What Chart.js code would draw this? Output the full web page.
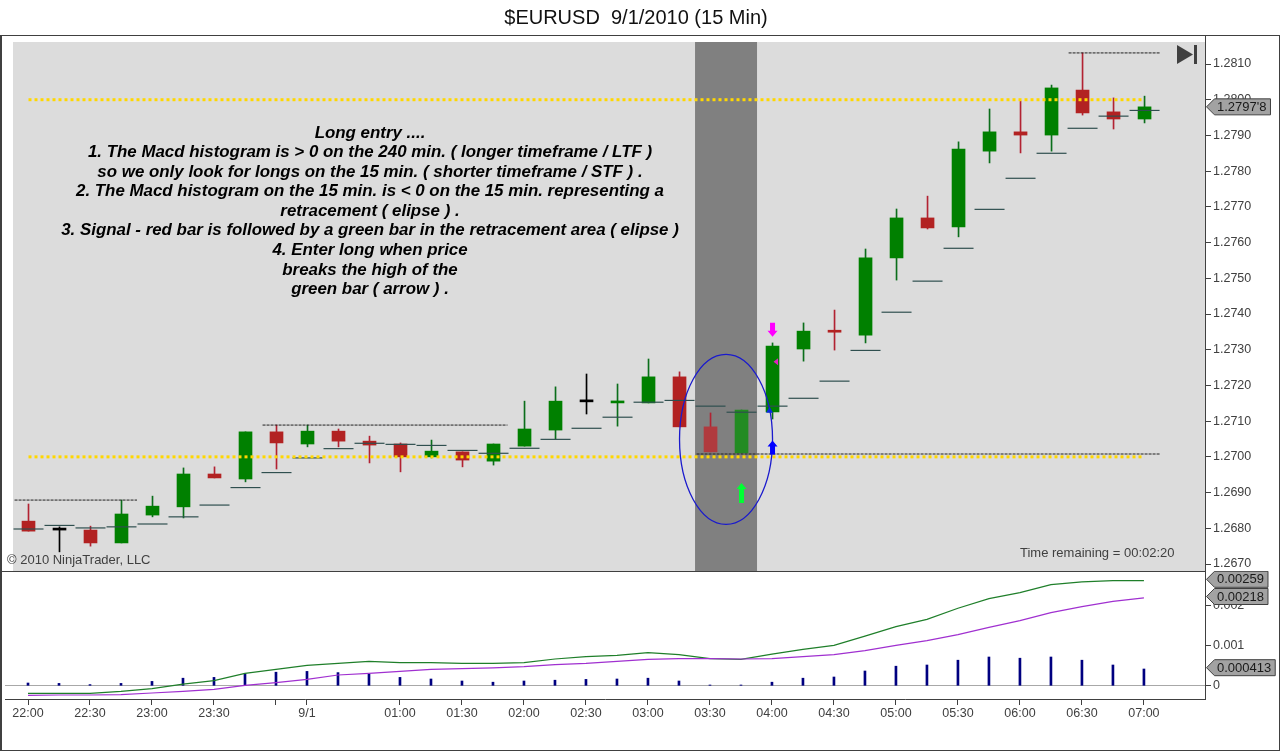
<!DOCTYPE html>
<html>
<head>
<meta charset="utf-8">
<title>$EURUSD 9/1/2010 (15 Min)</title>
<script src="https://cdn.jsdelivr.net/npm/chart.js@4/dist/chart.umd.min.js"></script>
<style>
    html, body { margin: 0; padding: 0; background: #fff; width: 1280px; height: 751px; overflow: hidden; }
    body { position: relative; font-family: "Liberation Sans", Arial, sans-serif; }
    canvas { position: absolute; left: 0; }
    #priceChart { top: 0; }
    #macdChart { top: 571px; }
    .frame { position: absolute; background: #404040; }
    .label { position: absolute; white-space: pre; color: #404040; font-size: 13px; line-height: 14px; }
    #chartTitle { position: absolute; left: 0; width: 1272px; top: 4px; text-align: center; white-space: pre; font-size: 20px; line-height: 26px; color: #111; }
    #entryNotes { position: absolute; left: 20px; width: 700px; top: 122.5px; text-align: center; white-space: pre; font-size: 16.9px; line-height: 19.6px; font-weight: bold; font-style: italic; color: #000; }
    #endIcon { position: absolute; left: 1177px; top: 45px; }
</style>
</head>
<body>
<canvas id="priceChart" width="1280" height="572"></canvas>
<canvas id="macdChart" width="1280" height="180"></canvas>

<div class="frame" style="left:0;top:35px;width:1280px;height:1px"></div>
<div class="frame" style="left:0;top:35px;width:2px;height:716px"></div>
<div class="frame" style="left:1279px;top:35px;width:1px;height:716px"></div>
<div class="frame" style="left:0;top:750px;width:1280px;height:1px"></div>
<div class="frame" style="left:1205px;top:35px;width:1px;height:664px"></div>
<div class="frame" style="left:0;top:571px;width:1205px;height:1px"></div>

<div id="chartTitle">$EURUSD  9/1/2010 (15 Min)</div>
<div id="entryNotes">Long entry ....
1. The Macd histogram is &gt; 0 on the 240 min. ( longer timeframe / LTF )
so we only look for longs on the 15 min. ( shorter timeframe / STF ) .
2. The Macd histogram on the 15 min. is &lt; 0 on the 15 min. representing a
retracement ( elipse ) .
3. Signal - red bar is followed by a green bar in the retracement area ( elipse )
4. Enter long when price
breaks the high of the
green bar ( arrow ) .</div>
<div class="label" style="left:7px;top:553px">© 2010 NinjaTrader, LLC</div>
<div class="label" style="left:1020px;top:546px">Time remaining = 00:02:20</div>
<svg id="endIcon" width="21" height="20"><path d="M0 0 L16 9.5 L0 19 Z" fill="#404040"/><rect x="17" y="0" width="3" height="19" fill="#404040"/></svg>

<script>
    // candles, one per 15 min bar starting at 22:00
    const opens = [1.2682, 1.26795, 1.26795, 1.26759, 1.26837, 1.2686, 1.26952, 1.26938, 1.2707, 1.27036, 1.27072, 1.27044, 1.27036, 1.27, 1.27014, 1.26988, 1.2703, 1.27075, 1.27154, 1.27151, 1.27151, 1.27224, 1.27084, 1.27011, 1.27126, 1.27302, 1.27352, 1.27341, 1.27557, 1.27669, 1.27644, 1.27856, 1.2791, 1.27901, 1.28027, 1.27966, 1.27946];
    const highs = [1.26868, 1.26804, 1.26806, 1.26879, 1.2689, 1.26969, 1.26972, 1.2707, 1.27089, 1.27089, 1.27078, 1.27058, 1.27039, 1.27047, 1.27014, 1.27036, 1.27156, 1.27196, 1.27232, 1.27204, 1.27274, 1.27238, 1.27123, 1.27131, 1.27319, 1.27375, 1.27411, 1.27582, 1.27694, 1.2773, 1.27882, 1.27974, 1.27996, 1.28041, 1.28131, 1.28005, 1.2801];
    const lows = [1.26792, 1.26734, 1.2675, 1.26759, 1.26832, 1.26829, 1.26941, 1.2693, 1.26966, 1.27028, 1.27028, 1.26983, 1.26958, 1.26997, 1.26972, 1.26977, 1.2703, 1.2705, 1.2712, 1.27086, 1.27151, 1.27084, 1.27014, 1.27011, 1.27106, 1.27268, 1.27299, 1.27319, 1.27495, 1.27638, 1.27616, 1.27823, 1.27851, 1.27856, 1.27957, 1.27918, 1.27935];
    const closes = [1.26792, 1.26795, 1.26759, 1.2684, 1.26862, 1.26952, 1.26941, 1.2707, 1.27039, 1.27072, 1.27044, 1.27033, 1.27, 1.27016, 1.26991, 1.27036, 1.27078, 1.27156, 1.27154, 1.27156, 1.27224, 1.27084, 1.27014, 1.27131, 1.2731, 1.27352, 1.27349, 1.27557, 1.27669, 1.27641, 1.27862, 1.2791, 1.27901, 1.28033, 1.27963, 1.27946, 1.2798];

    // the short flat marks that trail each bar
    const stopLevels = [1.26798, 1.26808, 1.26801, 1.26804, 1.26812, 1.26832, 1.26865, 1.26914, 1.26956, 1.26997, 1.27023, 1.27038, 1.27035, 1.27032, 1.27018, 1.2701, 1.27024, 1.27049, 1.2708, 1.27111, 1.27153, 1.27158, 1.27142, 1.27125, 1.27142, 1.27164, 1.27212, 1.27298, 1.27405, 1.27492, 1.27584, 1.27693, 1.2778, 1.2785, 1.2792, 1.27954, 1.2797];

    // macd panel
    const macdLine = [-0.00019, -0.00019, -0.00019, -0.00014, -0.00007, 0.00004, 0.00013, 0.00031, 0.00041, 0.00051, 0.00056, 0.00061, 0.00058, 0.00058, 0.00056, 0.00056, 0.00058, 0.00067, 0.00073, 0.00076, 0.00083, 0.00078, 0.00068, 0.00066, 0.00079, 0.00091, 0.00101, 0.00124, 0.00148, 0.00166, 0.00194, 0.00218, 0.00233, 0.00253, 0.0026, 0.00263, 0.00263];
    const signalLine = [-0.00024, -0.00023, -0.00023, -0.00022, -0.00018, -0.00014, -0.00009, 0.00001, 0.00008, 0.00016, 0.00027, 0.00031, 0.00036, 0.00041, 0.00043, 0.00045, 0.00048, 0.00053, 0.00056, 0.00061, 0.00066, 0.00068, 0.00068, 0.00067, 0.00068, 0.00073, 0.00078, 0.00088, 0.00101, 0.00113, 0.00128, 0.00146, 0.00163, 0.00183, 0.00198, 0.00211, 0.0022];
    const histogram = [0.00007, 0.00006, 0.00003, 0.00006, 0.00011, 0.00019, 0.00021, 0.0003, 0.00034, 0.00036, 0.00033, 0.00029, 0.00021, 0.00017, 0.00012, 0.00009, 0.00012, 0.00014, 0.00016, 0.00017, 0.00019, 0.00012, 0.00002, 0.00002, 0.00009, 0.00019, 0.00022, 0.00037, 0.00049, 0.00052, 0.00064, 0.00072, 0.00069, 0.00072, 0.00064, 0.00052, 0.00042];

    // axes
    const priceTicks = [1.267, 1.268, 1.269, 1.27, 1.271, 1.272, 1.273, 1.274, 1.275, 1.276, 1.277, 1.278, 1.279, 1.28, 1.281];
    const macdTicks = [0, 0.001, 0.002];
    const macdTickLabels = ["0", "0.001", "0.002"];
    const timeTicks = [0, 2, 4, 6, 8, 9, 12, 14, 16, 18, 20, 22, 24, 26, 28, 30, 32, 34, 36];
    const timeLabels = ["22:00", "22:30", "23:00", "23:30", "", "9/1", "01:00", "01:30", "02:00", "02:30", "03:00", "03:30", "04:00", "04:30", "05:00", "05:30", "06:00", "06:30", "07:00"];

    // dashed level lines and yellow dotted lines
    const levelPrices = [1.26879, 1.27089, 1.28131, 1.27008];
    const levelStarts = [-0.45, 7.55, 33.55, 21.55];
    const levelEnds = [3.5, 15.45, 36.5, 36.5];
    const dottedPrices = [1.28, 1.27];

    // annotations
    const retracementBars = [22, 23];
    const bandStart = 21.5;
    const bandEnd = 23.5;
    const ellipseLeft = 21;
    const ellipseRight = 24;
    const ellipseHigh = 1.27287;
    const ellipseLow = 1.26811;
    const arrowBars = [24, 24, 23];
    const arrowTips = [1.27336, 1.27046, 1.26927];
    const arrowSizes = [-14, 14, 20];
    const arrowColors = ["#ff00ff", "#0000ff", "#00ff33"];

    // right hand value flags
    const priceFlagText = "1.2797'8";
    const macdFlagTexts = ["0.00259", "0.00218", "0.000413"];

    const FONT = "'Liberation Sans', Arial, sans-serif";
    const AXIS_COLOR = "#404040";
    const barIndexes = closes.map((_, i) => i);

    const candleColor = (i) => {
        const highlighted = retracementBars.includes(i);
        if (opens[i] === closes[i]) return "#000000";
        if (closes[i] > opens[i]) return highlighted ? "#228b22" : "#008000";
        return highlighted ? "#b03a3e" : "#b22222";
    };
    const wickColor = (i) => {
        if (opens[i] === closes[i]) return "#000000";
        if (closes[i] > opens[i]) return "#0b6e1b";
        return "#b22232";
    };

    // labels near the edges must not shrink the plot area
    const fixAxisFit = (size) => (scale) => {
        if (scale.isHorizontal()) {
            scale.height = size;
        } else {
            scale.width = size;
        }
        scale.paddingTop = 0;
        scale.paddingBottom = 0;
        scale.paddingLeft = 0;
        scale.paddingRight = 0;
    };

    const drawFlag = (ctx, y, text) => {
        ctx.save();
        ctx.font = "13px " + FONT;
        const right = 1217 + ctx.measureText(text).width + 4;
        ctx.beginPath();
        ctx.moveTo(1206.5, y);
        ctx.lineTo(1214.5, y - 8);
        ctx.lineTo(right, y - 8);
        ctx.lineTo(right, y + 8);
        ctx.lineTo(1214.5, y + 8);
        ctx.closePath();
        ctx.fillStyle = "#a2a2a2";
        ctx.fill();
        ctx.strokeStyle = AXIS_COLOR;
        ctx.lineWidth = 1;
        ctx.stroke();
        ctx.fillStyle = "#1a1a1a";
        ctx.textAlign = "left";
        ctx.textBaseline = "middle";
        ctx.fillText(text, 1217, y + 0.5);
        ctx.restore();
    };

    const drawArrow = (ctx, x, tipY, size, color) => {
        const dir = size > 0 ? 1 : -1;
        const headEnd = tipY + dir * 6;
        const tail = tipY + size;
        ctx.beginPath();
        ctx.moveTo(x, tipY);
        ctx.lineTo(x + 5, headEnd);
        ctx.lineTo(x + 2.5, headEnd);
        ctx.lineTo(x + 2.5, tail);
        ctx.lineTo(x - 2.5, tail);
        ctx.lineTo(x - 2.5, headEnd);
        ctx.lineTo(x - 5, headEnd);
        ctx.closePath();
        ctx.fillStyle = color;
        ctx.fill();
    };

    const bandPlugin = {
        id: "band",
        beforeDatasetsDraw(chart) {
            const { ctx, chartArea, scales } = chart;
            ctx.save();
            ctx.fillStyle = "#dcdcdc";
            ctx.fillRect(chartArea.left, chartArea.top, chartArea.right - chartArea.left, chartArea.bottom - chartArea.top);
            const x0 = scales.x.getPixelForValue(bandStart);
            const x1 = scales.x.getPixelForValue(bandEnd);
            ctx.fillStyle = "#808080";
            ctx.fillRect(x0, chartArea.top, x1 - x0, chartArea.bottom - chartArea.top);
            ctx.restore();
        },
    };

    const annotationPlugin = {
        id: "annotations",
        afterDatasetsDraw(chart) {
            const { ctx, scales } = chart;
            const x0 = scales.x.getPixelForValue(ellipseLeft);
            const x1 = scales.x.getPixelForValue(ellipseRight);
            const y0 = scales.y.getPixelForValue(ellipseHigh);
            const y1 = scales.y.getPixelForValue(ellipseLow);
            ctx.save();
            ctx.beginPath();
            ctx.ellipse((x0 + x1) / 2, (y0 + y1) / 2, (x1 - x0) / 2, (y1 - y0) / 2, 0, 0, Math.PI * 2);
            ctx.strokeStyle = "#1a1acd";
            ctx.lineWidth = 1.3;
            ctx.stroke();

            arrowBars.forEach((bar, i) => {
                drawArrow(ctx, scales.x.getPixelForValue(bar), scales.y.getPixelForValue(arrowTips[i]), arrowSizes[i], arrowColors[i]);
            });

            // small marks sitting on the entry bar
            const entryX = scales.x.getPixelForValue(24);
            const upY = scales.y.getPixelForValue(1.2714);
            ctx.fillStyle = "#0a28e0";
            ctx.beginPath();
            ctx.moveTo(entryX - 3, upY);
            ctx.lineTo(entryX + 0.5, upY + 6);
            ctx.lineTo(entryX - 6.5, upY + 6);
            ctx.closePath();
            ctx.fill();
            const markY = scales.y.getPixelForValue(1.27266);
            ctx.fillStyle = "#e020c0";
            ctx.beginPath();
            ctx.moveTo(entryX + 1, markY);
            ctx.lineTo(entryX + 5.5, markY - 3.5);
            ctx.lineTo(entryX + 5.5, markY + 3.5);
            ctx.closePath();
            ctx.fill();
            ctx.restore();
        },
        afterDraw(chart) {
            const { ctx, scales } = chart;
            drawFlag(ctx, scales.y.getPixelForValue(closes[closes.length - 1]), priceFlagText);
        },
    };

    const macdFlagPlugin = {
        id: "macdFlags",
        afterDraw(chart) {
            const { ctx, scales } = chart;
            const lastValues = [macdLine[macdLine.length - 1], signalLine[signalLine.length - 1], histogram[histogram.length - 1]];
            lastValues.forEach((value, i) => {
                drawFlag(ctx, scales.y.getPixelForValue(value) - 1.3, macdFlagTexts[i]);
            });
        },
    };

    const levelDatasets = levelPrices.map((price, i) => ({
        type: "line",
        data: [{ x: levelStarts[i], y: price }, { x: levelEnds[i], y: price }],
        borderColor: "#202020",
        borderWidth: 1,
        borderDash: [3, 1],
        pointRadius: 0,
        order: 2,
    }));

    const dottedDatasets = dottedPrices.map((price) => ({
        type: "line",
        data: [{ x: 0, y: price }, { x: 36, y: price }],
        borderColor: "#ffd700",
        borderWidth: 3,
        borderDash: [3, 3],
        pointRadius: 0,
        order: 1,
    }));

    new Chart(document.getElementById("priceChart"), {
        type: "bar",
        data: {
            datasets: [
                {
                    label: "Wicks",
                    data: barIndexes.map((i) => ({ x: i, y: [lows[i], highs[i]] })),
                    backgroundColor: barIndexes.map(wickColor),
                    barThickness: 1,
                    grouped: false,
                    order: 5,
                },
                {
                    label: "Bodies",
                    data: barIndexes.map((i) => ({ x: i, y: [opens[i], closes[i]] })),
                    backgroundColor: barIndexes.map(candleColor),
                    barThickness: 13,
                    minBarLength: 2,
                    grouped: false,
                    order: 4,
                },
                {
                    type: "line",
                    label: "Stops",
                    data: barIndexes.map((i) => ({ x: i, y: stopLevels[i] })),
                    showLine: false,
                    pointStyle: "line",
                    pointRadius: 15,
                    pointBorderWidth: 1.2,
                    pointBorderColor: "#2f4f4f",
                    order: 3,
                },
                ...levelDatasets,
                ...dottedDatasets,
            ],
        },
        options: {
            responsive: false,
            animation: false,
            // the 15px stop marks would otherwise push the plot area inwards
            layout: { autoPadding: false, padding: { left: 13, top: 42, bottom: 1, right: 0 } },
            plugins: { legend: { display: false }, tooltip: { enabled: false } },
            scales: {
                x: { type: "linear", min: -0.5, max: 37.95, offset: false, display: false, grid: { offset: false } },
                y: {
                    position: "right",
                    min: 1.266804,
                    max: 1.281616,
                    afterBuildTicks: (scale) => {
                        scale.ticks = priceTicks.map((value) => ({ value }));
                    },
                    afterFit: fixAxisFit(75),
                    border: { display: false },
                    grid: { drawOnChartArea: false, tickLength: 6, tickColor: AXIS_COLOR, tickWidth: 1 },
                    ticks: {
                        autoSkip: false,
                        padding: 2,
                        color: AXIS_COLOR,
                        font: { family: FONT, size: 12.5 },
                        callback: (value) => value.toFixed(4),
                    },
                },
            },
        },
        plugins: [bandPlugin, annotationPlugin],
    });

    new Chart(document.getElementById("macdChart"), {
        type: "bar",
        data: {
            datasets: [
                {
                    label: "Diff",
                    data: barIndexes.map((i) => ({ x: i, y: histogram[i] })),
                    backgroundColor: "#000080",
                    barThickness: 2,
                    order: 3,
                },
                {
                    type: "line",
                    label: "Macd",
                    data: barIndexes.map((i) => ({ x: i, y: macdLine[i] })),
                    borderColor: "#1f7f2a",
                    borderWidth: 1.2,
                    pointRadius: 0,
                    order: 2,
                },
                {
                    type: "line",
                    label: "Avg",
                    data: barIndexes.map((i) => ({ x: i, y: signalLine[i] })),
                    borderColor: "#a030d0",
                    borderWidth: 1.2,
                    pointRadius: 0,
                    order: 1,
                },
            ],
        },
        options: {
            responsive: false,
            animation: false,
            layout: { autoPadding: false, padding: { left: 5, top: 0, bottom: 0, right: 0 } },
            plugins: { legend: { display: false }, tooltip: { enabled: false } },
            scales: {
                x: {
                    type: "linear",
                    min: -0.742,
                    max: 37.97,
                    offset: false,
                    afterBuildTicks: (scale) => {
                        scale.ticks = timeTicks.map((value) => ({ value }));
                    },
                    afterFit: fixAxisFit(52),
                    border: { display: true, color: AXIS_COLOR },
                    grid: { offset: false, drawOnChartArea: false, tickLength: 6, tickColor: AXIS_COLOR },
                    ticks: {
                        autoSkip: false,
                        maxRotation: 0,
                        padding: 1,
                        color: AXIS_COLOR,
                        font: { family: FONT, size: 12.5 },
                        callback: (value) => timeLabels[timeTicks.indexOf(value)],
                    },
                },
                y: {
                    position: "right",
                    min: -0.00033,
                    max: 0.00287,
                    afterBuildTicks: (scale) => {
                        scale.ticks = macdTicks.map((value) => ({ value }));
                    },
                    afterFit: fixAxisFit(75),
                    border: { display: false },
                    grid: {
                        tickLength: 6,
                        tickColor: AXIS_COLOR,
                        color: (ctx) => (ctx.tick && ctx.tick.value === 0 ? "#a8a8a8" : "transparent"),
                    },
                    ticks: {
                        autoSkip: false,
                        padding: 2,
                        color: AXIS_COLOR,
                        font: { family: FONT, size: 12.5 },
                        callback: (value) => macdTickLabels[macdTicks.indexOf(value)],
                    },
                },
            },
        },
        plugins: [macdFlagPlugin],
    });
</script>
</body>
</html>
